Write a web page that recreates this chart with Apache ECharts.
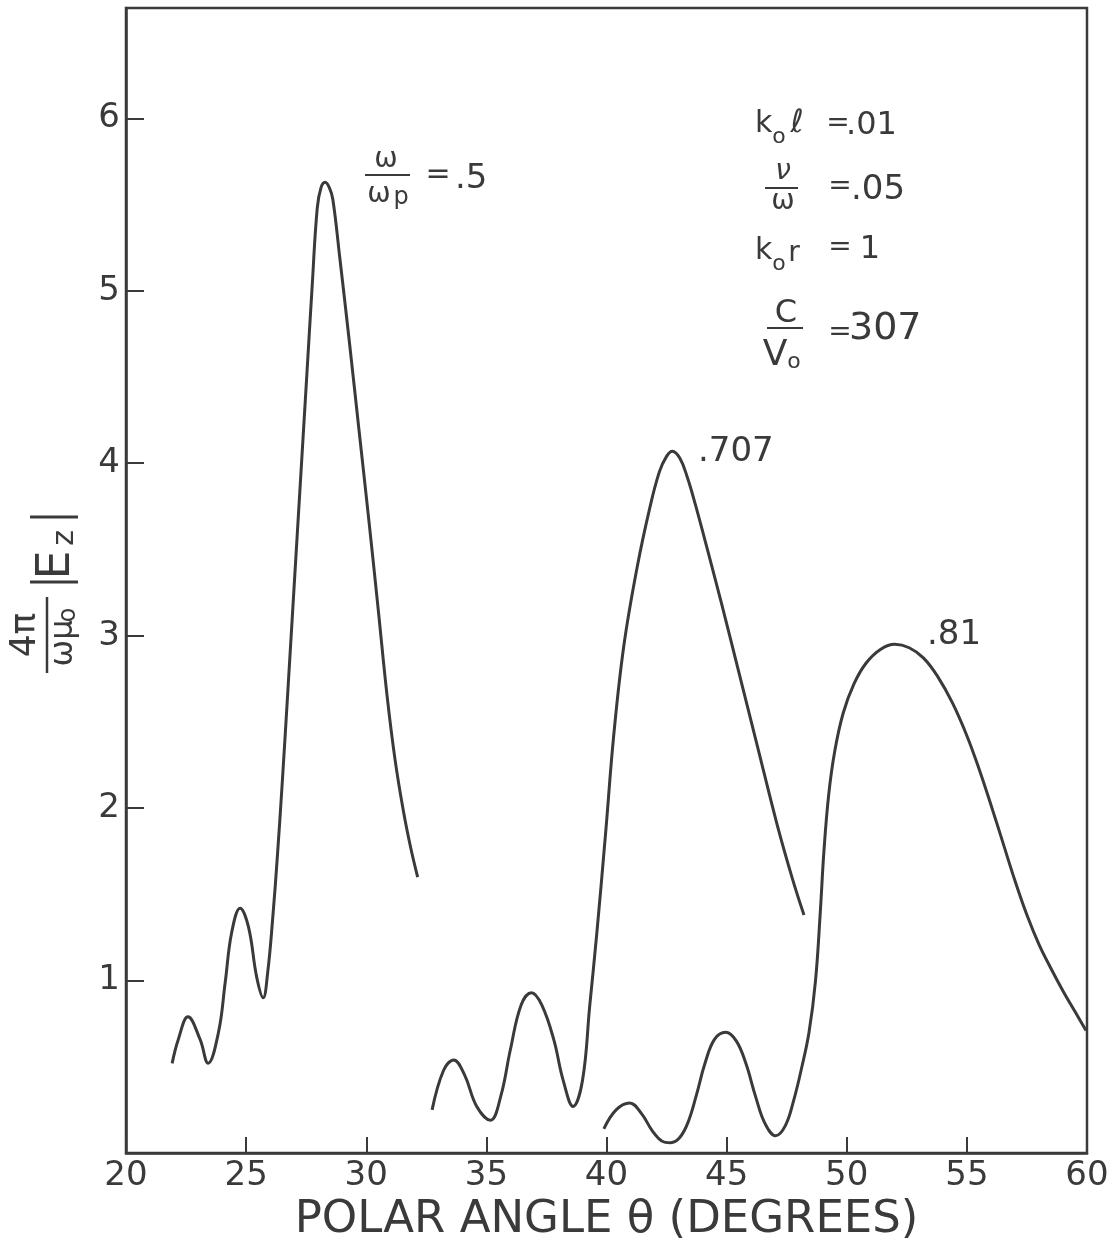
<!DOCTYPE html>
<html><head><meta charset="utf-8">
<script src="https://cdn.jsdelivr.net/npm/echarts@6/dist/echarts.min.js"></script>
<style>html,body{margin:0;padding:0;background:#fff}#c{width:1119px;height:1239px}</style>
</head><body><div id="c"></div>
<script>
// ---- data ----
const xTickValues = [20, 25, 30, 35, 40, 45, 50, 55, 60];
const yTickValues = [1, 2, 3, 4, 5, 6];

// omega/omega_p = .5
const theta05 = [21.92, 22.18, 22.58, 23.08, 23.42, 23.85, 24.13, 24.4, 24.75, 25.1, 25.44, 25.71, 25.9, 26.1, 26.3, 26.5, 26.75, 27.0, 27.25, 27.5, 27.75, 27.96, 28.12, 28.29, 28.46, 28.61, 28.9, 29.3, 29.7, 30.1, 30.5, 30.86, 31.2, 31.55, 31.85, 32.14];
const e05     = [0.52, 0.66, 0.79, 0.66, 0.52, 0.70, 0.99, 1.28, 1.42, 1.31, 1.02, 0.90, 1.05, 1.35, 1.72, 2.14, 2.71, 3.29, 3.87, 4.45, 5.03, 5.48, 5.60, 5.63, 5.60, 5.53, 5.19, 4.70, 4.19, 3.68, 3.15, 2.66, 2.28, 1.98, 1.77, 1.60];

// omega/omega_p = .707
const theta707 = [32.74, 33.22, 33.64, 34.1, 34.6, 35.17, 35.6, 36.0, 36.45, 36.88, 37.3, 37.8, 38.2, 38.61, 39.0, 39.3, 39.6, 39.96, 40.3, 40.72, 41.28, 41.8, 42.2, 42.5, 42.74, 43.05, 43.36, 43.7, 44.2, 44.8, 45.45, 46.28, 47.11, 47.74, 48.22];
const e707     = [0.25, 0.48, 0.54, 0.45, 0.27, 0.19, 0.33, 0.60, 0.86, 0.93, 0.86, 0.66, 0.42, 0.27, 0.42, 0.85, 1.28, 1.85, 2.42, 2.94, 3.40, 3.74, 3.95, 4.04, 4.07, 4.03, 3.92, 3.76, 3.50, 3.18, 2.82, 2.36, 1.90, 1.59, 1.38];

// omega/omega_p = .81
const theta81 = [39.89, 40.4, 40.97, 41.45, 41.9, 42.3, 42.67, 43.05, 43.4, 43.75, 44.1, 44.5, 44.96, 45.4, 45.8, 46.2, 46.6, 47.04, 47.45, 47.8, 48.1, 48.43, 48.7, 48.9, 49.05, 49.25, 49.5, 49.85, 50.3, 50.8, 51.4, 52.0, 52.6, 53.2, 53.8, 54.4, 55.0, 55.5, 56.0, 56.5, 57.0, 57.5, 58.0, 58.5, 59.0, 59.5, 59.96];
const e81     = [0.14, 0.25, 0.29, 0.23, 0.13, 0.07, 0.06, 0.09, 0.18, 0.34, 0.52, 0.66, 0.70, 0.65, 0.52, 0.33, 0.17, 0.10, 0.16, 0.31, 0.48, 0.70, 1.00, 1.40, 1.75, 2.08, 2.33, 2.55, 2.72, 2.84, 2.92, 2.95, 2.93, 2.87, 2.76, 2.61, 2.42, 2.23, 2.02, 1.80, 1.58, 1.38, 1.21, 1.07, 0.94, 0.82, 0.71];

const xAxisTitle = 'POLAR ANGLE \u03B8 (DEGREES)';

// ---- styling ----
const INK = '#3a3a3a';
const FONT = "'DejaVu Sans', 'Noto Sans', sans-serif";

function pairs(xs, ys) { return xs.map((x, i) => [x, ys[i]]); }
function curve(name, xs, ys) {
  return {
    name, type: 'line', data: pairs(xs, ys), showSymbol: false, smooth: 0.4,
    lineStyle: { color: INK, width: 3 }, itemStyle: { color: INK }, z: 3, silent: true
  };
}
function T(x, y, text, size, extra) {
  return {
    type: 'text', x, y,
    style: { text, fill: INK, font: (extra && extra.italic ? 'italic ' : '') + size + 'px ' + FONT,
      align: (extra && extra.align) || 'center', verticalAlign: 'middle' }
  };
}
function L(x1, y1, x2, y2, w) {
  return { type: 'line', shape: { x1, y1, x2, y2 }, style: { stroke: INK, lineWidth: w || 2.5 } };
}

const chart = echarts.init(document.getElementById('c'), null, { renderer: 'canvas' });

const yNameGroup = {
  type: 'group', x: 47, y: 593, rotation: Math.PI / 2,
  children: [
    T(-42, -21, '4\u03C0', 36),
    L(-80, 0, -4, 0, 2.5),
    T(-50, 17, '\u03C9\u03BC', 32),
    T(-22, 22, 'o', 24),
    L(11, -17, 11, 31, 3),
    T(28, 10, 'E', 46),
    T(55, 18, 'z', 30),
    L(76, -17, 76, 31, 3)
  ]
};

const annotations = [
  // omega / omega_p = .5
  T(386, 160, '\u03C9', 28),
  L(365, 175, 410, 175, 2),
  T(379, 195, '\u03C9', 28),
  T(401, 198, 'p', 24),
  T(438, 175, '=', 30),
  T(455, 179, '.5', 34, { align: 'left' }),
  // .707 / .81
  T(698, 452, '.707', 34, { align: 'left' }),
  T(927, 635, '.81', 34, { align: 'left' }),
  // parameter block
  T(755, 124, 'k', 30, { align: 'left' }),
  T(779, 137, 'o', 22),
  T(797, 124, '\u2113', 32, { italic: true }),
  T(838, 124, '=', 28),
  T(846, 126, '.01', 32, { align: 'left' }),
  T(783, 172, '\u03BD', 28, { italic: true }),
  L(765, 188, 798, 188, 2),
  T(783, 202, '\u03C9', 28),
  T(840, 187, '=', 28),
  T(851, 190, '.05', 34, { align: 'left' }),
  T(755, 251, 'k', 30, { align: 'left' }),
  T(779, 264, 'o', 22),
  T(794, 254, 'r', 28),
  T(840, 248, '=', 28),
  T(870, 250, '1', 32),
  T(786, 314, 'C', 32),
  L(767, 328, 803, 328, 2),
  T(775, 356, 'V', 36),
  T(794, 362, 'o', 22),
  T(840, 333, '=', 28),
  T(849, 329, '307', 38, { align: 'left' })
];

chart.setOption({
  backgroundColor: '#ffffff',
  animation: false,
  grid: { left: 126, right: 32, top: 8, bottom: 86, outerBoundsMode: 'none', containLabel: false,
          show: true, borderColor: INK, borderWidth: 2.5, backgroundColor: 'transparent' },
  xAxis: {
    type: 'value', min: 20, max: 60, interval: 5,
    axisLine: { show: true, lineStyle: { color: INK, width: 2.5 } },
    axisTick: { show: true, inside: true, length: 16, customValues: xTickValues, lineStyle: { color: INK, width: 2 } },
    axisLabel: { show: true, customValues: xTickValues, color: INK, fontSize: 34, fontFamily: FONT, margin: 6 },
    splitLine: { show: false },
    name: xAxisTitle, nameLocation: 'middle', nameGap: 36,
    nameTextStyle: { color: INK, fontSize: 45, fontFamily: FONT, verticalAlign: 'top' }
  },
  yAxis: {
    type: 'value', min: 0, max: 6.64, interval: 1,
    axisLine: { show: true, lineStyle: { color: INK, width: 2.5 } },
    axisTick: { show: true, inside: true, length: 18, customValues: yTickValues, lineStyle: { color: INK, width: 2 } },
    axisLabel: { show: true, customValues: yTickValues, color: INK, fontSize: 34, fontFamily: FONT, margin: 6 },
    splitLine: { show: false }
  },
  series: [
    curve('\u03C9/\u03C9p = .5', theta05, e05),
    curve('.707', theta707, e707),
    curve('.81', theta81, e81)
  ],
  graphic: [yNameGroup].concat(annotations)
});
</script>
</body></html>
